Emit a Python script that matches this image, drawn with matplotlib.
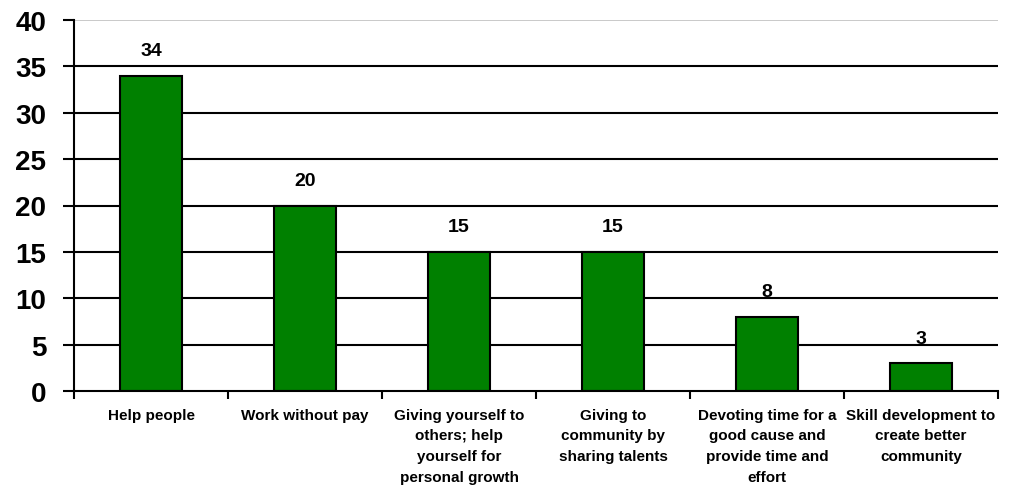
import matplotlib
matplotlib.use("Agg")
import matplotlib.pyplot as plt
from matplotlib.ticker import FixedLocator, NullFormatter

categories = [
    "Help people",
    "Work without pay",
    "Giving yourself to\nothers; help\nyourself for\npersonal growth",
    "Giving to\ncommunity by\nsharing talents",
    "Devoting time for a\ngood cause and\nprovide time and\neffort",
    "Skill development to\ncreate better\ncommunity",
]
values = [34, 20, 15, 15, 8, 3]
yticks = [0, 5, 10, 15, 20, 25, 30, 35, 40]

plt.rcParams['font.family'] = ['Liberation Sans', 'DejaVu Sans']

fig = plt.figure(figsize=(10.1, 4.89), dpi=100)
ax = fig.add_axes([74/1010, 1 - 392/489, (998-74)/1010, (392-21)/489])

x = list(range(len(categories)))
for yv in yticks[1:-1]:
    ax.axhline(yv, color='black', lw=1.5, zorder=1)
ax.axhline(40, color='#c0c0c0', lw=1.2, zorder=1)

bars = ax.bar(x, values, width=0.4, color='#008000', edgecolor='black', linewidth=1.5, zorder=3)
for xi, v in zip(x, values):
    ax.annotate(str(v), (xi, v), xytext=(0, 12), textcoords='offset points',
                ha='center', va='bottom', fontsize=14, fontweight='bold', zorder=4)

ax.set_xlim(-0.5, len(categories) - 0.5)
ax.set_ylim(0, 40)
ax.set_yticks(yticks)
ax.set_yticklabels([str(t) for t in yticks], fontsize=20, fontweight='bold')
ax.tick_params(axis='y', direction='out', length=8, width=1.5, pad=12)

ax.xaxis.set_major_locator(FixedLocator([i - 0.5 for i in range(len(categories) + 1)]))
ax.xaxis.set_major_formatter(NullFormatter())
ax.xaxis.set_minor_locator(FixedLocator(x))
ax.set_xticklabels(categories, minor=True, fontsize=11, fontweight='bold', linespacing=1.62)
ax.tick_params(axis='x', which='major', direction='out', length=6, width=1.5)
ax.tick_params(axis='x', which='minor', length=0, pad=12)

for s in ['top', 'right']:
    ax.spines[s].set_visible(False)
ax.spines['left'].set_linewidth(1.5)
ax.spines['bottom'].set_linewidth(1.5)
ax.spines['left'].set_zorder(5)
ax.spines['bottom'].set_zorder(5)

fig.savefig("out.png", dpi=100)
